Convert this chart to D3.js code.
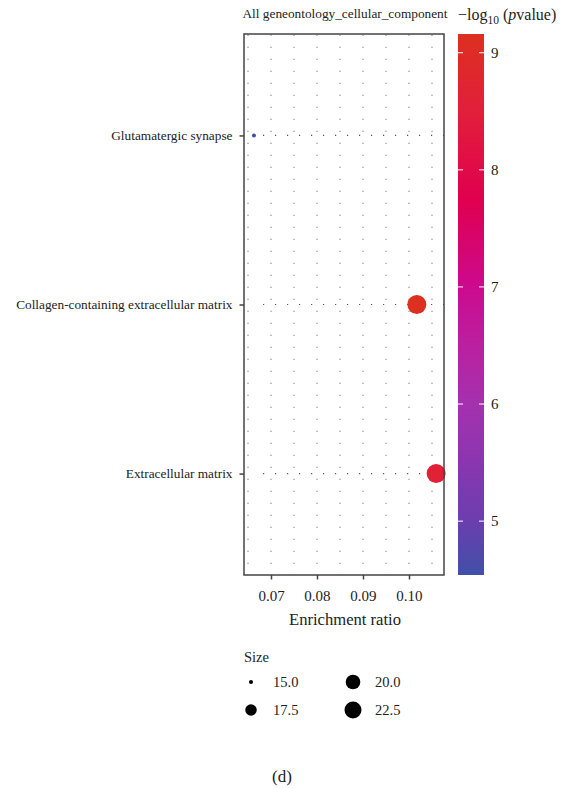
<!DOCTYPE html>
<html>
<head>
<meta charset="utf-8">
<script src="https://cdn.jsdelivr.net/npm/d3@7"></script>
<style>
  html, body { margin: 0; padding: 0; background: #fff; }
  text { font-family: "Liberation Serif", "DejaVu Serif", serif; fill: #222; }
</style>
</head>
<body>
<svg id="chart" width="564" height="789"></svg>
<script>
// ---- data ----
const categories = ["Glutamatergic synapse", "Collagen-containing extracellular matrix", "Extracellular matrix"];
const enrichmentRatio = [0.0663, 0.1017, 0.1059];
const logP = [4.54, 9.16, 8.6];
const geneSize = [15, 25, 25];
const xTicks = [0.07, 0.08, 0.09, 0.10];
const xTickLabels = ["0.07", "0.08", "0.09", "0.10"];
const colorTicks = [5, 6, 7, 8, 9];
const sizeBreaks = [15.0, 17.5, 20.0, 22.5];
const sizeBreakLabels = ["15.0", "17.5", "20.0", "22.5"];
const chartTitle = "All geneontology_cellular_component";
const xTitle = "Enrichment ratio";
const panelLabel = "(d)";

// ---- layout ----
const svg = d3.select("#chart");
const P = { left: 244, right: 444, top: 34, bottom: 575 };

const x = d3.scaleLinear().domain([0.06413, 0.10761]).range([P.left, P.right]);
const y = d3.scalePoint().domain(categories).range([P.top, P.bottom]).padding(0.6);

const cDomain = [d3.min(logP), d3.max(logP)];
const cStops = [
  [4.54, "#4050a8"], [5.0, "#6b3eae"], [5.5, "#8a36b0"], [6.0, "#a431ae"],
  [6.5, "#bb20a0"], [7.0, "#cc0a8e"], [7.75, "#e0004e"], [8.5, "#e21f3a"], [9.16, "#dc3020"]
];
const color = d3.scaleLinear().domain(cStops.map(d => d[0])).range(cStops.map(d => d[1]))
  .interpolate(d3.interpolateRgb).clamp(true);

const sMin = d3.min(geneSize), sMax = d3.max(geneSize);
const rLin = d3.scaleLinear().domain([0, 1]).range([2, 9.5]);
const radius = s => rLin(Math.sqrt((s - sMin) / (sMax - sMin)));

const data = categories.map((c, i) => ({ c, er: enrichmentRatio[i], lp: logP[i], s: geneSize[i] }));

// ---- grid ----
const gridX = d3.range(0.065, 0.1076, 0.005);
svg.append("g").selectAll("line").data(gridX).join("line")
  .attr("x1", d => x(d)).attr("x2", d => x(d))
  .attr("y1", P.top + 0.7).attr("y2", P.bottom)
  .attr("stroke", "#666").attr("stroke-width", 1.1).attr("stroke-dasharray", "1.1,10.9");
svg.append("g").selectAll("line").data(categories).join("line")
  .attr("x1", P.left + 19).attr("x2", P.right)
  .attr("y1", d => y(d)).attr("y2", d => y(d))
  .attr("stroke", "#555").attr("stroke-width", 1.2).attr("stroke-dasharray", "1.2,10.8");

// ---- points ----
svg.append("g").selectAll("circle").data(data).join("circle")
  .attr("cx", d => x(d.er)).attr("cy", d => y(d.c))
  .attr("r", d => radius(d.s)).attr("fill", d => color(d.lp));

// ---- panel border ----
svg.append("rect").attr("x", P.left).attr("y", P.top)
  .attr("width", P.right - P.left).attr("height", P.bottom - P.top)
  .attr("fill", "none").attr("stroke", "#444").attr("stroke-width", 1.5);

// ---- axes ----
const FONT = "Liberation Serif, DejaVu Serif, serif";
const xAxis = svg.append("g").attr("transform", `translate(0,${P.bottom})`)
  .call(d3.axisBottom(x).tickValues(xTicks).tickFormat((d, i) => xTickLabels[i]).tickSize(4.5).tickPadding(11));
xAxis.select(".domain").remove();
xAxis.selectAll("line").attr("stroke", "#444").attr("stroke-width", 1.5);
xAxis.selectAll("text").attr("font-size", 15).attr("fill", "#222").attr("font-family", FONT);

const yAxis = svg.append("g").attr("transform", `translate(${P.left},0)`)
  .call(d3.axisLeft(y).tickSize(4.5).tickPadding(7));
yAxis.select(".domain").remove();
yAxis.selectAll("line").attr("stroke", "#444").attr("stroke-width", 1.5);
yAxis.selectAll("text").attr("font-size", 13.3).attr("fill", "#222").attr("font-family", FONT);

// ---- titles ----
svg.append("text").attr("x", (P.left + P.right) / 2 + 1).attr("y", 18)
  .attr("text-anchor", "middle").attr("font-size", 13.3).text(chartTitle);
svg.append("text").attr("x", (P.left + P.right) / 2 + 1).attr("y", 625)
  .attr("text-anchor", "middle").attr("font-size", 16.6).text(xTitle);
svg.append("text").attr("x", 282).attr("y", 782)
  .attr("text-anchor", "middle").attr("font-size", 17).text(panelLabel);

// ---- colorbar ----
const CB = { x: 458, w: 26, top: 34, bottom: 575 };
const cy = d3.scaleLinear().domain(cDomain).range([CB.bottom, CB.top]);
const grad = svg.append("defs").append("linearGradient").attr("id", "cbgrad")
  .attr("x1", 0).attr("y1", 1).attr("x2", 0).attr("y2", 0);
grad.selectAll("stop").data(cStops).join("stop")
  .attr("offset", d => (d[0] - cDomain[0]) / (cDomain[1] - cDomain[0]))
  .attr("stop-color", d => d[1]);
svg.append("rect").attr("x", CB.x).attr("y", CB.top).attr("width", CB.w)
  .attr("height", CB.bottom - CB.top).attr("fill", "url(#cbgrad)");
const cbt = svg.append("g");
cbt.selectAll("line.l").data(colorTicks).join("line").attr("class", "l")
  .attr("x1", CB.x).attr("x2", CB.x + 5).attr("y1", d => cy(d)).attr("y2", d => cy(d))
  .attr("stroke", "#fff").attr("stroke-width", 1);
cbt.selectAll("line.r").data(colorTicks).join("line").attr("class", "r")
  .attr("x1", CB.x + CB.w - 5).attr("x2", CB.x + CB.w).attr("y1", d => cy(d)).attr("y2", d => cy(d))
  .attr("stroke", "#fff").attr("stroke-width", 1);
cbt.selectAll("text").data(colorTicks).join("text")
  .attr("x", CB.x + CB.w + 7).attr("y", d => cy(d)).attr("dy", "0.35em")
  .attr("font-size", 15).text(d => d);

const ct = svg.append("text").attr("x", 458).attr("y", 20).attr("font-size", 16);
ct.append("tspan").text("\u2212log");
ct.append("tspan").attr("font-size", 11.5).attr("dy", 4).text("10");
ct.append("tspan").attr("dy", -4).text(" (");
ct.append("tspan").attr("font-style", "italic").text("p");
ct.append("tspan").text("value)");

// ---- size legend ----
svg.append("text").attr("x", 244).attr("y", 662).attr("font-size", 14.5).text("Size");
const legPos = [[251, 682], [251, 710], [353, 682], [353, 710]];
const lg = svg.append("g");
lg.selectAll("circle").data(sizeBreaks).join("circle")
  .attr("cx", (d, i) => legPos[i][0]).attr("cy", (d, i) => legPos[i][1])
  .attr("r", d => radius(d)).attr("fill", "#000");
lg.selectAll("text").data(sizeBreakLabels).join("text")
  .attr("x", (d, i) => legPos[i][0] + 22).attr("y", (d, i) => legPos[i][1]).attr("dy", "0.35em")
  .attr("font-size", 14.5).text(d => d);
</script>
</body>
</html>
